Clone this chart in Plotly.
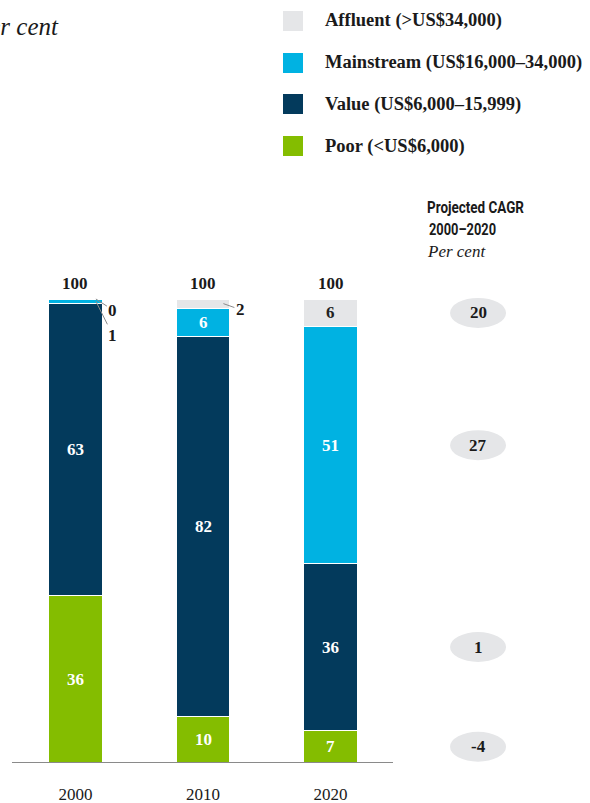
import plotly.graph_objects as go

# Income-segment shares of households, per cent
years = ["2000", "2010", "2020"]
poor = [36, 10, 7]
value = [63, 82, 36]
mainstream = [1, 6, 51]
affluent = [0, 2, 6]

segment_names = [
    "Poor (<US$6,000)",
    "Value (US$6,000–15,999)",
    "Mainstream (US$16,000–34,000)",
    "Affluent (>US$34,000)",
]
# Projected CAGR 2000–2020, per cent (poor, value, mainstream, affluent)
cagr = [-4, 1, 27, 20]

series = [poor, value, mainstream, affluent]
colors = ["#84bd00", "#033a5c", "#00b2e2", "#e5e6e8"]
label_colors = ["#ffffff", "#ffffff", "#ffffff", "#222222"]

W, H = 590, 803
PLOT_H = 763           # height of plotting area (bottom margin below)
SERIF = "Liberation Serif, Times New Roman, serif"
SANS = "Roboto, Liberation Sans, sans-serif"
DARK = "#1a1a1a"

fig = go.Figure()
for name, vals, col in zip(segment_names, series, colors):
    fig.add_trace(go.Bar(
        x=years, y=vals, name=name,
        marker=dict(color=col, line=dict(color="white", width=1)),
        showlegend=False, hoverinfo="skip",
    ))

annotations = []
shapes = []


def bold(s):
    return f"<b>{s}</b>"


# segment labels: inside when large enough, leader line otherwise
leader_offsets = {(0, 3): (17, 11), (0, 2): (17, 34), (1, 3): (17, 6)}
for i, yr in enumerate(years):
    base = 0
    for k, vals in enumerate(series):
        v = vals[i]
        mid = base + v / 2
        if v >= 5:
            annotations.append(dict(
                x=i, y=mid, xref="x", yref="y", text=bold(v), showarrow=False,
                font=dict(family=SERIF, size=17, color=label_colors[k]),
            ))
        else:
            ax, ay = leader_offsets.get((i, k), (17, 10))
            annotations.append(dict(
                x=i + 0.16, y=mid, xref="x", yref="y", text=bold(v),
                showarrow=True, arrowhead=0, arrowwidth=1, arrowcolor="#8a8a8a",
                ax=ax, ay=ay, standoff=0,
                font=dict(family=SERIF, size=17, color=DARK),
            ))
        base += v
    total = sum(s[i] for s in series)
    annotations.append(dict(
        x=i, y=total, xref="x", yref="y", text=bold(total), showarrow=False,
        yshift=16, font=dict(family=SERIF, size=17, color=DARK),
    ))

# CAGR ovals aligned with the 2020 segment midpoints
oval_x = 3.157
base = 0
for k, vals in enumerate(series):
    v = vals[-1]
    mid = base + v / 2
    base += v
    shapes.append(dict(
        type="circle", xref="x", yref="y", xsizemode="pixel", ysizemode="pixel",
        xanchor=oval_x, yanchor=mid, x0=-28, x1=28, y0=-15, y1=15,
        fillcolor="#e5e6e8", line=dict(width=0), layer="below",
    ))
    annotations.append(dict(
        x=oval_x, y=mid, xref="x", yref="y", text=bold(cagr[k]), showarrow=False,
        font=dict(family=SERIF, size=17, color=DARK),
    ))

# baseline
shapes.append(dict(
    type="line", xref="x", yref="y", x0=-0.498, x1=2.49, y0=0, y1=0,
    line=dict(color="#8a8a8a", width=2),
))


def py(p):
    return (PLOT_H - p) / PLOT_H


def px(p):
    return p / W


# custom legend, top to bottom: affluent, mainstream, value, poor
legend_rows = [21, 63, 104, 146]
for row, k in zip(legend_rows, [3, 2, 1, 0]):
    shapes.append(dict(
        type="rect", xref="paper", yref="paper",
        x0=px(283), x1=px(303), y0=py(row + 10), y1=py(row - 10),
        fillcolor=colors[k], line=dict(width=0),
    ))
    annotations.append(dict(
        x=px(323), y=py(row), xref="paper", yref="paper",
        xanchor="left", yanchor="middle",
        text=bold(segment_names[k]), showarrow=False,
        font=dict(family=SERIF, size=18.5, color=DARK),
    ))

# chart unit
annotations.append(dict(
    x=px(61), y=py(27), xref="paper", yref="paper",
    xanchor="right", yanchor="middle",
    text="<i>Per cent</i>", showarrow=False,
    font=dict(family=SERIF, size=25, color=DARK),
))

# CAGR column header
annotations += [
    dict(x=px(425), y=py(208), xref="paper", yref="paper",
         xanchor="left", yanchor="middle", align="left",
         text=bold("Projected CAGR"), showarrow=False,
         font=dict(family=SANS, size=16, color=DARK)),
    dict(x=px(427), y=py(229), xref="paper", yref="paper",
         xanchor="left", yanchor="middle", align="left",
         text=bold("2000–2020"), showarrow=False,
         font=dict(family=SANS, size=16, color=DARK)),
    dict(x=px(425), y=py(251), xref="paper", yref="paper",
         xanchor="left", yanchor="middle",
         text="<i>Per cent</i>", showarrow=False,
         font=dict(family=SERIF, size=17, color=DARK)),
]

fig.update_layout(
    width=W, height=H,
    margin=dict(l=0, r=0, t=0, b=H - PLOT_H, autoexpand=False),
    barmode="stack", bargap=0.584,
    plot_bgcolor="white", paper_bgcolor="white",
    xaxis=dict(
        type="category", categoryorder="array", categoryarray=years,
        range=[-0.592, 4.035], showgrid=False, zeroline=False, showline=False,
        ticks="", tickfont=dict(family=SERIF, size=17, color=DARK),
        ticklabelstandoff=19, automargin=False, fixedrange=True,
    ),
    yaxis=dict(range=[0, PLOT_H / 4.64], visible=False, automargin=False,
               fixedrange=True),
    annotations=annotations,
    shapes=shapes,
)

# condensed header lettering: compress the column header text horizontally
condense = """
var gd = document.getElementById('{plot_id}');
var widths = {'Projected CAGR': 97, '2000\u20132020': 67};
function condense() {
  gd.querySelectorAll('text.annotation-text').forEach(function (t) {
    var w = widths[t.textContent];
    if (w) {
      t.setAttribute('textLength', w);
      t.setAttribute('lengthAdjust', 'spacingAndGlyphs');
    }
  });
}
condense();
if (gd.on) { gd.on('plotly_afterplot', condense); }
"""

fig.write_html("out.html", post_script=condense)
